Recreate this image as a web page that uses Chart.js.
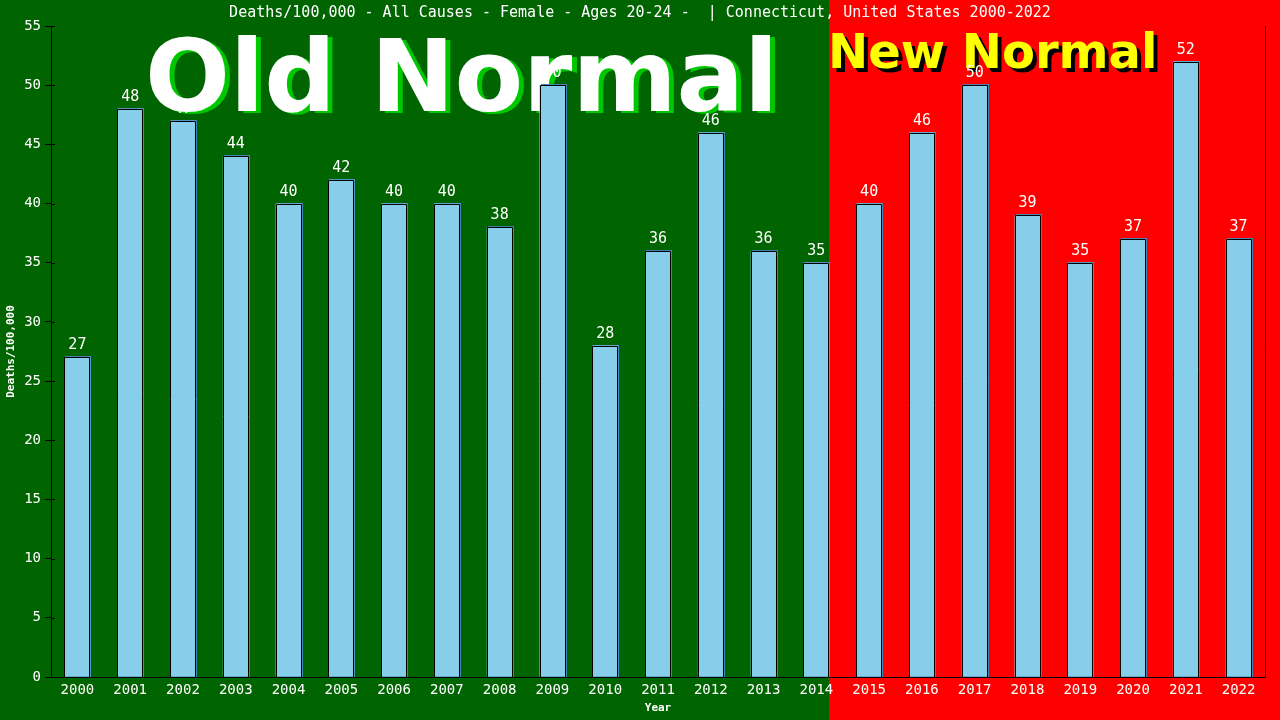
<!DOCTYPE html>
<html>
<head>
<meta charset="utf-8">
<script src="https://cdn.jsdelivr.net/npm/chart.js@4.4.1/dist/chart.umd.min.js"></script>
<style>
  body { margin: 0; background: #006400; }
  canvas { display: block; }
</style>
</head>
<body>
<canvas id="barChart" width="1280" height="720"></canvas>
<script>
// Connecticut, female 20-24, deaths per 100,000
const years = ["2000", "2001", "2002", "2003", "2004", "2005", "2006", "2007", "2008", "2009", "2010", "2011",
  "2012", "2013", "2014", "2015", "2016", "2017", "2018", "2019", "2020", "2021", "2022"];
const deathRate = [27, 48, 47, 44, 40, 42, 40, 40, 38, 50, 28, 36, 46, 36, 35, 40, 46, 50, 39, 35, 37, 52, 37];
const lastOldYear = "2014";

const titleText = "Deaths/100,000 - All Causes - Female - Ages 20-24 -  | Connecticut, United States 2000-2022";

// backgrounds, big captions, bar outlines and value labels
const backdrop = {
  id: "backdrop",
  beforeDraw(chart) {
    const ctx = chart.ctx;
    const meta = chart.getDatasetMeta(0);
    const bar = meta.data[years.indexOf(lastOldYear)];
    const split = Math.round(bar.x + bar.width / 2);
    ctx.save();
    ctx.fillStyle = "#006400";
    ctx.fillRect(0, 0, split, chart.height);
    ctx.fillStyle = "#ff0000";
    ctx.fillRect(split, 0, chart.width - split, chart.height);
    ctx.fillStyle = "#ffffff";
    ctx.font = "15px 'DejaVu Sans Mono'";
    ctx.textAlign = "center";
    ctx.textBaseline = "middle";
    ctx.fillText(titleText, 640, 13);
    ctx.restore();
  },
  beforeDatasetsDraw(chart) {
    const ctx = chart.ctx;
    const area = chart.chartArea;
    ctx.save();
    ctx.textBaseline = "alphabetic";
    ctx.textAlign = "left";
    ctx.font = "bold 100px 'DejaVu Sans'";
    ctx.fillStyle = "#00c800";
    ctx.fillText("Old Normal", 150, 113);
    ctx.fillStyle = "#ffffff";
    ctx.fillText("Old Normal", 145, 111);
    ctx.font = "bold 48px 'DejaVu Sans'";
    ctx.fillStyle = "#000000";
    ctx.fillText("New Normal", 832, 72);
    ctx.fillStyle = "#ffff00";
    ctx.fillText("New Normal", 828, 68);
    // bar shadows
    const meta = chart.getDatasetMeta(0);
    ctx.fillStyle = "#4682b4";
    meta.data.forEach(b => {
      const l = Math.round(b.x - b.width / 2);
      const t = Math.round(b.y);
      ctx.fillRect(l + 1, t - 1, Math.round(b.width), Math.round(b.base) - t + 1);
    });
    // right frame line and inner tick marks
    ctx.strokeStyle = "#000000";
    ctx.lineWidth = 1;
    ctx.beginPath();
    ctx.moveTo(Math.round(area.right) + 0.5, area.top);
    ctx.lineTo(Math.round(area.right) + 0.5, area.bottom);
    const yScale = chart.scales.y;
    yScale.ticks.forEach(t => {
      const py = Math.round(yScale.getPixelForValue(t.value)) + 0.5;
      ctx.moveTo(area.left, py);
      ctx.lineTo(area.left + 4, py);
    });
    ctx.stroke();
    ctx.restore();
  },
  afterDatasetsDraw(chart) {
    const ctx = chart.ctx;
    const meta = chart.getDatasetMeta(0);
    ctx.save();
    // crisp black outline on each bar
    ctx.strokeStyle = "#000000";
    ctx.lineWidth = 1;
    meta.data.forEach(b => {
      const l = Math.round(b.x - b.width / 2);
      const r = l + Math.round(b.width) - 1;
      const t = Math.round(b.y);
      const bot = Math.round(b.base);
      ctx.beginPath();
      ctx.moveTo(l + 0.5, bot);
      ctx.lineTo(l + 0.5, t + 0.5);
      ctx.lineTo(r + 0.5, t + 0.5);
      ctx.lineTo(r + 0.5, bot);
      ctx.stroke();
    });
    ctx.fillStyle = "#ffffff";
    ctx.font = "15px 'DejaVu Sans Mono'";
    ctx.textAlign = "center";
    ctx.textBaseline = "alphabetic";
    meta.data.forEach((b, i) => {
      ctx.fillText(String(deathRate[i]), b.x, Math.round(b.y) - 8);
    });
    ctx.restore();
  }
};

const barChart = document.querySelector("#barChart");
const myChart = new Chart(barChart, {
  type: "bar",
  data: {
    labels: years,
    datasets: [
      {
        data: deathRate,
        backgroundColor: "#87ceeb",
        borderWidth: 0,
        barPercentage: 0.49,
        categoryPercentage: 1,
      },
    ],
  },
  options: {
    responsive: false,
    animation: false,
    devicePixelRatio: 1,
    layout: { padding: { top: 26, right: 15, left: 0, bottom: 0 } },
    plugins: {
      legend: { display: false },
      title: { display: false },
      tooltip: { enabled: false },
    },
    scales: {
      x: {
        afterFit(scale) { scale.height = 43; },
        grid: { display: false, drawTicks: false },
        border: { color: "#000000", width: 1 },
        ticks: {
          color: "#ffffff",
          font: { family: "DejaVu Sans Mono", size: 14 },
          padding: 5,
          maxRotation: 0,
          autoSkip: false,
        },
        title: {
          display: true,
          text: "Year",
          color: "#ffffff",
          font: { family: "DejaVu Sans Mono", size: 11, weight: "bold" },
          padding: { top: 0, bottom: 5 },
        },
      },
      y: {
        min: 0,
        max: 55,
        afterFit(scale) { scale.width = 51; },
        grid: { drawOnChartArea: false, color: "#000000", tickLength: 6 },
        border: { color: "#000000", width: 1 },
        ticks: {
          stepSize: 5,
          color: "#ffffff",
          font: { family: "DejaVu Sans Mono", size: 14 },
          padding: 4,
        },
        title: {
          display: true,
          text: "Deaths/100,000",
          color: "#ffffff",
          font: { family: "DejaVu Sans Mono", size: 11, weight: "bold" },
          padding: { top: 5, bottom: 0 },
        },
      },
    },
  },
  plugins: [backdrop],
});
</script>
</body>
</html>
